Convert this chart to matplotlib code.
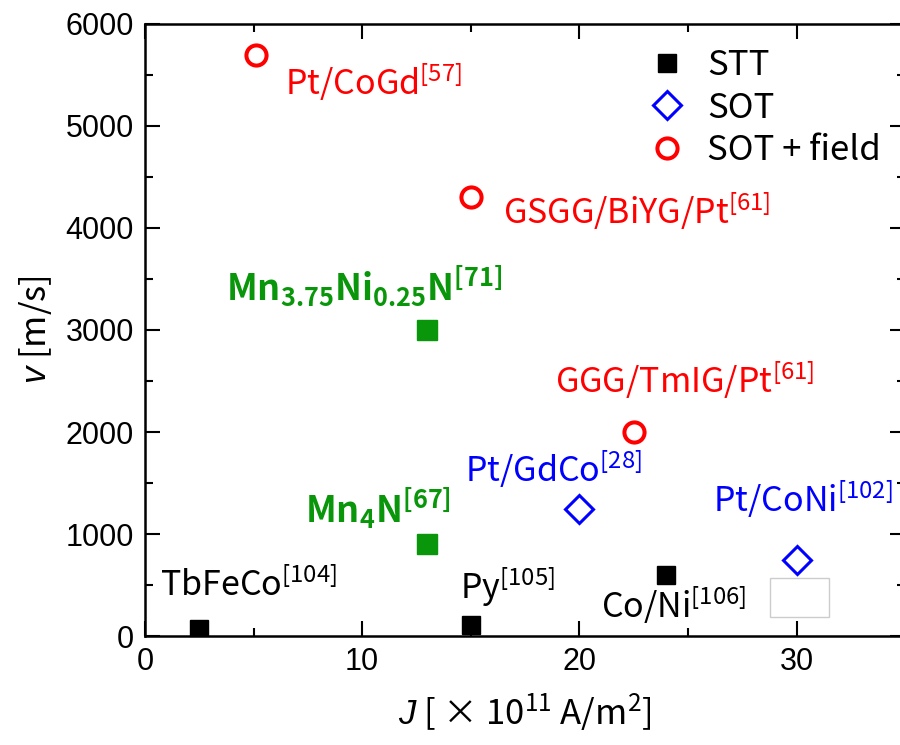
import numpy as np
import matplotlib.pyplot as plt
from matplotlib.patches import Rectangle

plt.rcParams['font.family'] = ['Noto Sans CJK JP', 'DejaVu Sans']
plt.rcParams['mathtext.fontset'] = 'custom'
plt.rcParams['mathtext.rm'] = 'Noto Sans CJK JP'
plt.rcParams['mathtext.bf'] = 'Noto Sans CJK JP:bold'
plt.rcParams['mathtext.it'] = 'Liberation Sans:italic'

# Data
stt_j = [2.5, 15, 24]
stt_v = [70, 110, 600]
stt_labels = ['TbFeCo$^{[104]}$', 'Py$^{[105]}$', 'Co/Ni$^{[106]}$']

mn_j = [13, 13]
mn_v = [3000, 900]
mn_labels = [r'Mn$_{\mathbf{3.75}}$Ni$_{\mathbf{0.25}}$N$^{\mathbf{[71]}}$',
             r'Mn$_{\mathbf{4}}$N$^{\mathbf{[67]}}$']

sot_j = [20, 30]
sot_v = [1250, 750]
sot_labels = ['Pt/GdCo$^{[28]}$', 'Pt/CoNi$^{[102]}$']

field_j = [5.1, 15, 22.5]
field_v = [5700, 4300, 2000]
field_labels = ['Pt/CoGd$^{[57]}$', 'GSGG/BiYG/Pt$^{[61]}$', 'GGG/TmIG/Pt$^{[61]}$']

red = '#ff0000'
blue = '#0000ff'
green = '#0a960a'

fig = plt.figure(figsize=(9, 7.45), dpi=100)
ax = fig.add_axes([0.161, 0.1463, 0.845, 0.8215])

ax.plot(stt_j, stt_v, 's', color='black', ms=13, label='STT')
ax.plot(mn_j, mn_v, 's', color=green, ms=15)
ax.plot(sot_j, sot_v, 'D', mfc='white', mec=blue, mew=2.2, ms=14, label='SOT')
ax.plot(field_j, field_v, 'o', mfc='white', mec=red, mew=2.9, ms=14.5, label='SOT + field')

fs = 24.5
# label offsets in pixels
stt_off = [(-39, 43, 'left'), (-11, 38, 'left'), (-65, -30, 'left')]
for x, y, s, (dx, dy, ha) in zip(stt_j, stt_v, stt_labels, stt_off):
    ax.annotate(s, (x, y), xytext=(dx, dy), textcoords='offset pixels',
                ha=ha, va='center', fontsize=fs, color='black')

mn_off = [(-63, 44), (-49, 36)]
for x, y, s, (dx, dy) in zip(mn_j, mn_v, mn_labels, mn_off):
    ax.annotate(s, (x, y), xytext=(dx, dy), textcoords='offset pixels',
                ha='center', va='center', fontsize=fs + 1.5, color=green, fontweight='bold')

sot_off = [(-114, 39), (-84, 60)]
for x, y, s, (dx, dy) in zip(sot_j, sot_v, sot_labels, sot_off):
    ax.annotate(s, (x, y), xytext=(dx, dy), textcoords='offset pixels',
                ha='left', va='center', fontsize=fs, color=blue)

field_off = [(29, -28, 'left'), (32, -14, 'left'), (51, 52, 'center')]
for x, y, s, (dx, dy, ha) in zip(field_j, field_v, field_labels, field_off):
    ax.annotate(s, (x, y), xytext=(dx, dy), textcoords='offset pixels',
                ha=ha, va='center', fontsize=fs, color=red)

# leftover empty box in the original figure
ax.add_patch(Rectangle((0.822, 0.031), 0.077, 0.064, transform=ax.transAxes,
                       fill=True, facecolor='white', edgecolor='#cccccc', lw=1))

ax.set_xlim(0, 35)
ax.set_ylim(0, 6000)
ax.set_xticks([0, 10, 20, 30])
ax.set_xticks([5, 15, 25, 35], minor=True)
ax.set_yticks(np.arange(0, 6001, 1000))
ax.set_yticks(np.arange(500, 6000, 1000), minor=True)
ax.tick_params(which='both', direction='in', top=True, right=True, width=1.5)
ax.tick_params(which='major', length=11, labelsize=22, pad=8)
ax.tick_params(which='minor', length=6)
for lab in ax.get_xticklabels() + ax.get_yticklabels():
    lab.set_family('Liberation Sans')
for sp in ax.spines.values():
    sp.set_linewidth(1.8)

ax.set_xlabel(r'$\it{J}$ [ × 10$^{11}$ A/m$^{2}$]', fontsize=25, labelpad=10)
ax.set_ylabel(r'$\it{v}$ [m/s]', fontsize=25, labelpad=8)

ax.legend(loc='upper right', bbox_to_anchor=(0.995, 0.995), frameon=False,
          fontsize=25, handletextpad=0.15, labelspacing=0.22, borderaxespad=0.2)

plt.savefig('out.png')
